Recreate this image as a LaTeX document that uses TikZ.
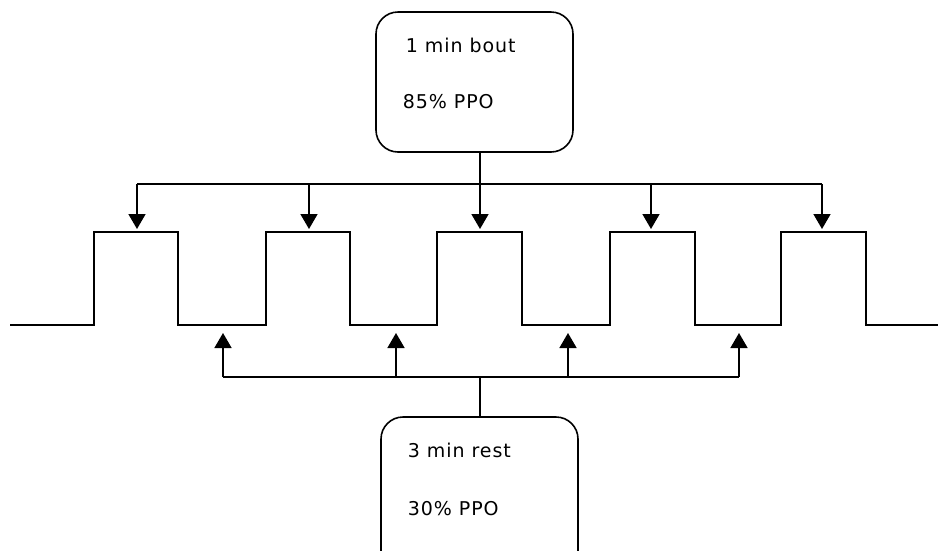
\documentclass[tikz,border=0pt]{standalone}
\usepackage{fontspec}
\newfontfamily\lblfont{DejaVu Sans}[LetterSpace=5]
\usetikzlibrary{arrows.meta}
\begin{document}
\begin{tikzpicture}[x=1pt,y=-1pt,line width=1.6pt,
  box/.style={draw, rounded corners=22pt, minimum width=197pt, inner sep=0pt},
  lbl/.style={anchor=base west, inner sep=0pt, font=\lblfont\fontsize{19}{21}\selectfont},
  tip/.style={-{Triangle[width=17pt,length=15pt]}}]
\useasboundingbox (0,0) rectangle (938,550);
\clip (0,0) rectangle (938,550);
% boxes
\node[box, minimum height=140pt] (bout) at (474.5,82) {};
\node[box, minimum height=173pt] (rest) at (479.5,503.5) {};
% labels
\node[lbl] (t1) at (405,52) {1 min bout};
\node[lbl] (t2) at (402,108) {85\% PPO};
\node[lbl] (t3) at (407,457) {3 min rest};
\node[lbl] (t4) at (407,515) {30\% PPO};
% pulse train
\draw (10,325) -- (94,325) -- (94,232) -- (178,232) -- (178,325) -- (266,325) -- (266,232) -- (350,232) -- (350,325)
  -- (437,325) -- (437,232) -- (522,232) -- (522,325) -- (610,325) -- (610,232) -- (695,232) -- (695,325)
  -- (781,325) -- (781,232) -- (866,232) -- (866,325) -- (938,325);
% top bus
\coordinate (a1) at (137,184); \coordinate (a2) at (309,184); \coordinate (a3) at (480,184);
\coordinate (a4) at (651,184); \coordinate (a5) at (822,184);
\coordinate (p1) at (137,232); \coordinate (p2) at (309,232); \coordinate (p3) at (480,232);
\coordinate (p4) at (651,232); \coordinate (p5) at (822,232);
\draw (bout.south -| a3) -- (a3);
\draw (a1) -- (a5);
\foreach \i in {1,...,5} \draw[tip, shorten >=3pt] (a\i) -- (p\i);
% bottom bus
\coordinate (b1) at (223,377); \coordinate (b2) at (396,377); \coordinate (b3) at (568,377);
\coordinate (b4) at (739,377); \coordinate (bj) at (480,377);
\coordinate (q1) at (223,325); \coordinate (q2) at (396,325); \coordinate (q3) at (568,325);
\coordinate (q4) at (739,325);
\draw (rest.north -| bj) -- (bj);
\draw (b1) -- (b4);
\foreach \i in {1,...,4} \draw[tip, shorten >=8pt] (b\i) -- (q\i);
\end{tikzpicture}
\end{document}
